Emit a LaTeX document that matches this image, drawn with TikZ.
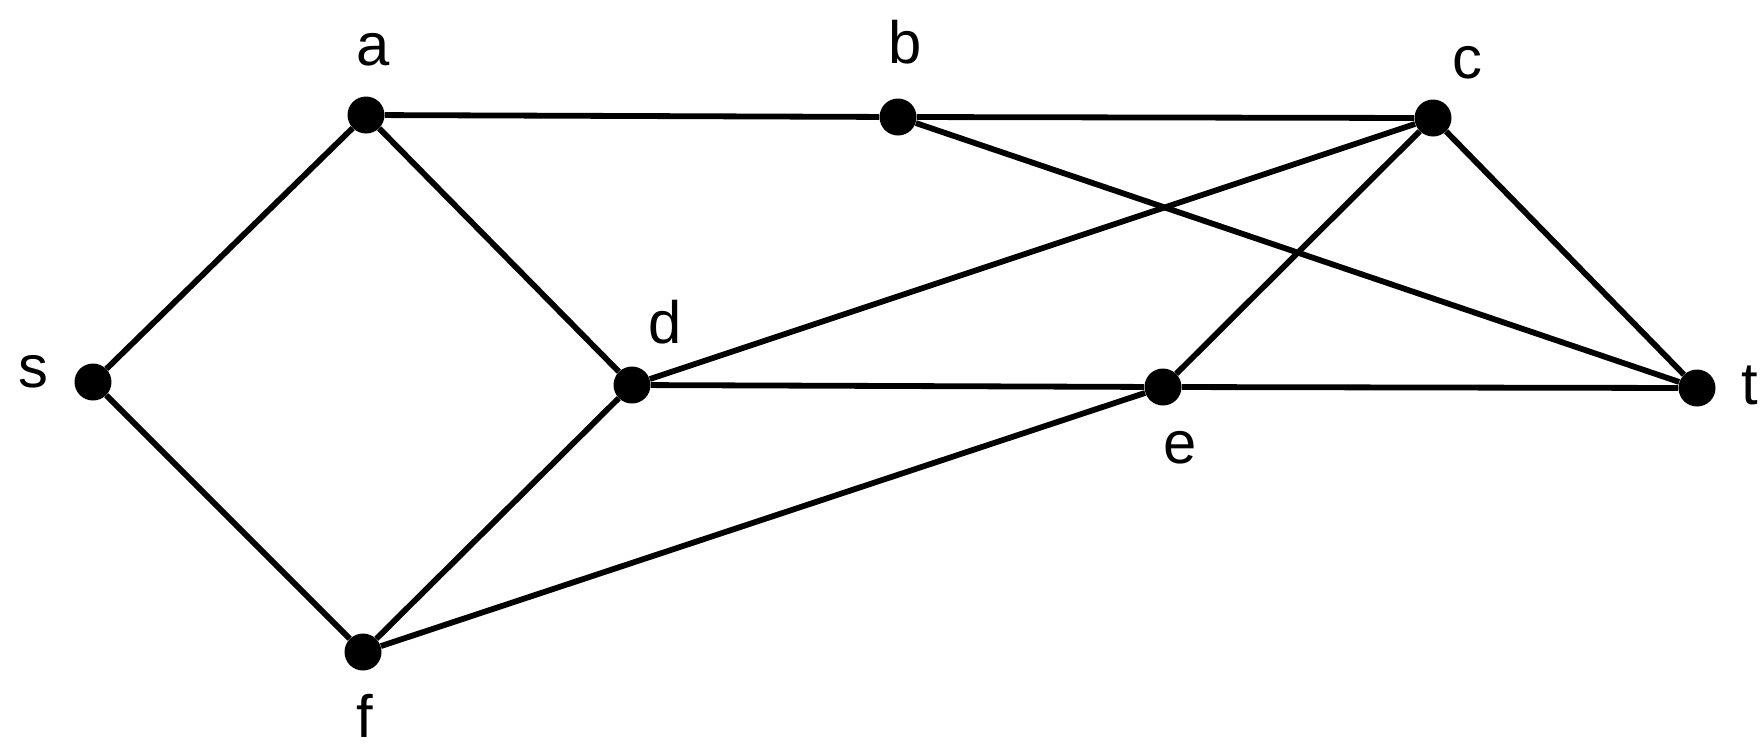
\documentclass[tikz,border=0pt]{standalone}
\usepackage{fontspec}
\setmainfont{Liberation Sans}
\usetikzlibrary{positioning}

\begin{document}
\begin{tikzpicture}[
  x=0.02cm, y=-0.02cm,
  every node/.style={font=\fontsize{34}{40}\selectfont, align=center},
  vertex/.style={circle, fill=black, inner sep=0pt, minimum size=7.4mm},
  tag/.style={inner sep=0pt},
  edge/.style={line width=3.3pt}
]
\useasboundingbox (0,0) rectangle (1764,748);

% vertices
\node[vertex] (s) at (93,382)   {};
\node[vertex] (a) at (366,115)  {};
\node[vertex] (b) at (898,117)  {};
\node[vertex] (c) at (1433,118) {};
\node[vertex] (d) at (632,385)  {};
\node[vertex] (e) at (1163,387) {};
\node[vertex] (t) at (1697,388) {};
\node[vertex] (f) at (363,652)  {};

% labels
\node[tag] (ls) at (33,372)   {s};
\node[tag] (la) at (373,50)   {a};
\node[tag] (lb) at (905,42)   {b};
\node[tag] (lc) at (1467,63)  {c};
\node[tag] (ld) at (665,322)  {d};
\node[tag] (le) at (1180,448) {e};
\node[tag] (lt) at (1750,385) {t};
\node[tag] (lf) at (365,716)  {f};

% edges
\draw[edge] (s) -- (a);
\draw[edge] (s) -- (f);
\draw[edge] (a) -- (b);
\draw[edge] (a) -- (d);
\draw[edge] (b) -- (c);
\draw[edge] (b) -- (t);
\draw[edge] (c) -- (d);
\draw[edge] (c) -- (e);
\draw[edge] (c) -- (t);
\draw[edge] (d) -- (e);
\draw[edge] (e) -- (t);
\draw[edge] (d) -- (f);
\draw[edge] (f) -- (e);

\end{tikzpicture}
\end{document}
